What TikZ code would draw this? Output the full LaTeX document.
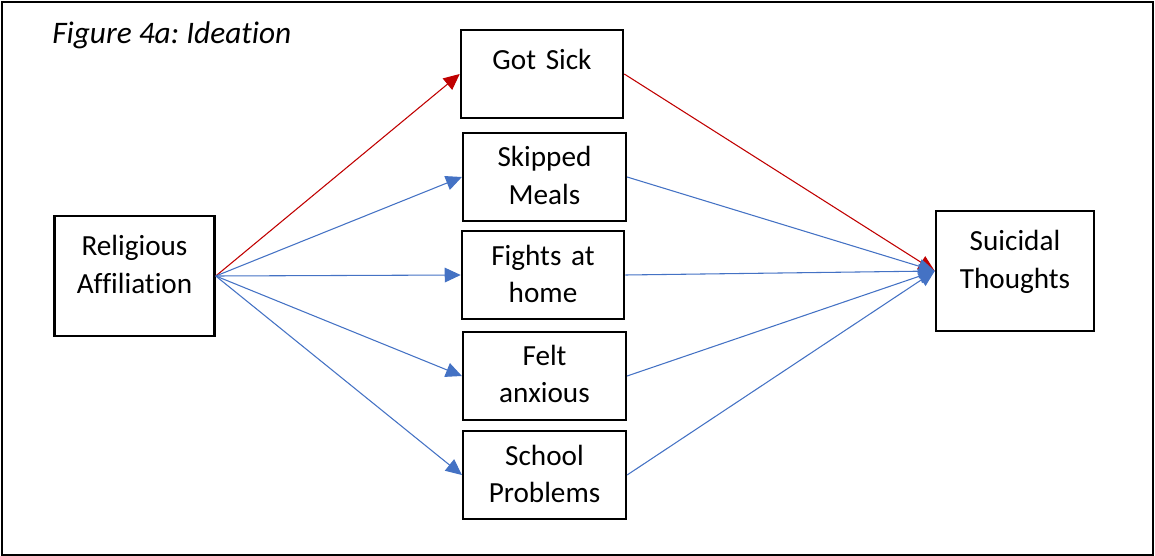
\documentclass[tikz,border=0pt]{standalone}
\usepackage{fontspec}
\setmainfont{Carlito}[Ligatures=NoCommon]
\usetikzlibrary{arrows.meta}
\definecolor{fred}{HTML}{C00000}
\definecolor{fblue}{HTML}{4472C4}
\tikzset{
  box/.style={draw=black, line width=1.9pt, rectangle, inner sep=0pt},
  lbl/.style={anchor=base, inner sep=0pt, text width=150pt, align=center,
    font=\fontsize{21.9}{28}\selectfont\frenchspacing},
  redarr/.style={draw=fred, line width=0.8pt, -{Triangle[length=12pt,width=11pt]}},
  bluearr/.style={draw=fblue, line width=0.8pt, -{Triangle[length=12pt,width=11pt]}},
}
\begin{document}
\begin{tikzpicture}[x=0.75pt,y=-0.75pt]
\useasboundingbox (0,0) rectangle (1155,556);
\draw[line width=1.5pt] (2,2) rectangle (1153,554.5);
\node[anchor=base west, inner sep=0pt, font=\fontsize{23.5}{28}\selectfont\itshape\frenchspacing] (title) at (52,43.3) {Figure 4a: Ideation};
% boxes
\node[box, minimum width=120pt, minimum height=90pt] (rel) at (134.5,276) {};
\node[box, minimum width=121.5pt, minimum height=66pt] (sick) at (542,74) {};
\node[box, minimum width=122pt, minimum height=66pt] (skip) at (544.5,177) {};
\node[box, minimum width=121.5pt, minimum height=66pt] (fight) at (543,275) {};
\node[box, minimum width=122pt, minimum height=66pt] (felt) at (544.5,376) {};
\node[box, minimum width=122pt, minimum height=66pt] (school) at (544.5,475) {};
\node[box, minimum width=118.5pt, minimum height=90pt] (sui) at (1015,271) {};
% labels
\node[lbl] (relt) at (134.5,255.7) {Religious\\Affiliation};
\node[lbl] (sickt) at (542,69.3) {Got Sick};
\node[lbl] (skipt) at (544.5,166.7) {Skipped\\Meals};
\node[lbl] (fightt) at (543,265) {Fights at\\home};
\node[lbl] (feltt) at (544.5,365) {Felt\\anxious};
\node[lbl] (schoolt) at (544.5,465) {School\\Problems};
\node[lbl] (suit) at (1015,250.7) {Suicidal\\Thoughts};
% arrows
\draw[redarr] (rel.east) -- (sick.west);
\draw[bluearr] (rel.east) -- (skip.west);
\draw[bluearr] (rel.east) -- (fight.west);
\draw[bluearr] (rel.east) -- (felt.west);
\draw[bluearr] (rel.east) -- (school.west);
\draw[redarr] (sick.east) -- (sui.west);
\draw[bluearr] (skip.east) -- (sui.west);
\draw[bluearr] (fight.east) -- (sui.west);
\draw[bluearr] (felt.east) -- (sui.west);
\draw[bluearr] (school.east) -- (sui.west);
\end{tikzpicture}
\end{document}
